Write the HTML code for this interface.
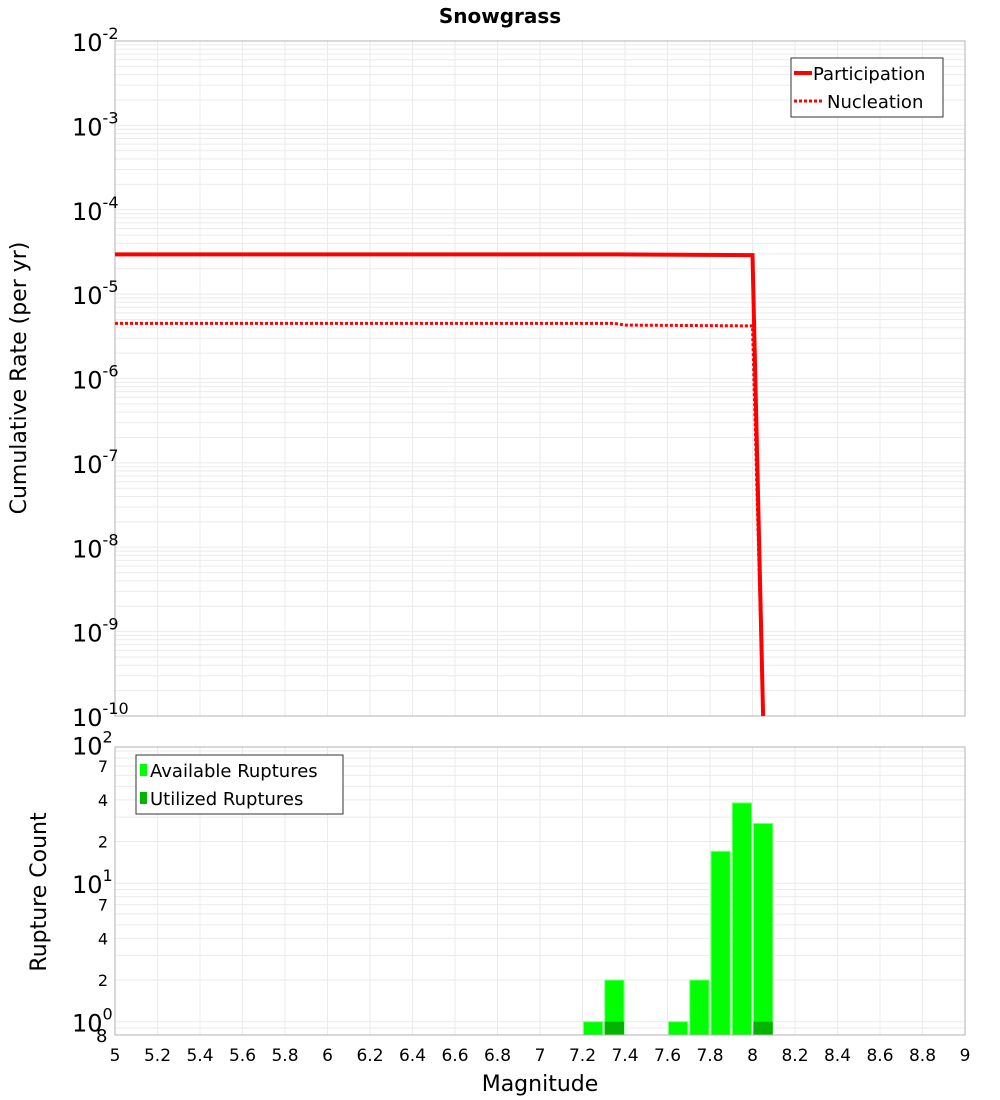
<!DOCTYPE html>
<html><head><meta charset="utf-8">
<style>
body{margin:0;background:#fff;}
svg{display:block;font-family:"DejaVu Sans","Liberation Sans",sans-serif;}
</style></head>
<body>
<svg id="chart" width="1000" height="1100" xmlns="http://www.w3.org/2000/svg">
<text x="500" y="23" text-anchor="middle" font-size="20" font-weight="bold">Snowgrass</text>
<g id="topPlot"></g>
<g id="botPlot"></g>
<text transform="translate(26,378) rotate(-90)" text-anchor="middle" font-size="22">Cumulative Rate (per yr)</text>
<text transform="translate(46,892) rotate(-90)" text-anchor="middle" font-size="22">Rupture Count</text>
<text x="540" y="1091" text-anchor="middle" font-size="22">Magnitude</text>
</svg>
<script>
const partMags=[5.0,7.35,8.0,8.05];
const partRates=[2.96e-5,2.96e-5,2.9e-5,1e-10];
const nuclMags=[5.0,7.35,7.4,8.0,8.05];
const nuclRates=[4.5e-6,4.5e-6,4.3e-6,4.2e-6,1e-10];
const binCenters=[7.25,7.35,7.65,7.75,7.85,7.95,8.05];
const availCounts=[1,2,1,2,17,38,27];
const usedCounts=[0,1,0,0,0,0,1];
const xTicks=[5,5.2,5.4,5.6,5.8,6,6.2,6.4,6.6,6.8,7,7.2,7.4,7.6,7.8,8,8.2,8.4,8.6,8.8,9];
const topExps=[-2,-3,-4,-5,-6,-7,-8,-9,-10];

const NS="http://www.w3.org/2000/svg";
function mk(parent,tag,attrs){const e=document.createElementNS(NS,tag);for(const k in attrs)e.setAttribute(k,attrs[k]);parent.appendChild(e);return e;}
function sup(parent,x,y,base,exp){const t=mk(parent,'text',{x:x,y:y,'font-size':24});
const a=mk(t,'tspan',{});a.textContent=base;
const b=mk(t,'tspan',{dy:-12,'font-size':16});b.textContent=exp;return t;}
const X0=115,X1=965;
const xs=m=>X0+(m-5)/4*(X1-X0);
const TY0=41,TY1=716;
const ty=v=>TY0+(-2-Math.log10(v))/8*(TY1-TY0);
const BY0=747,BY1=1035;
const by=v=>1021.7-Math.log10(v)*138.5;
const topG=document.getElementById('topPlot'),botG=document.getElementById('botPlot');

for(let e=-10;e<-2;e++){for(let k=1;k<10;k++){const y=ty(k*Math.pow(10,e));
const l=mk(topG,'line',{x1:X0,x2:X1,y1:y,y2:y,stroke:'#ebebeb','stroke-width':1});

}}
xTicks.forEach(t=>{const x=xs(t);
const l=mk(topG,'line',{x1:x,x2:x,y1:TY0,y2:TY1,stroke:'#ebebeb','stroke-width':1});


const l2=mk(botG,'line',{x1:x,x2:x,y1:BY0,y2:BY1,stroke:'#ebebeb','stroke-width':1});


const tx=mk(botG,'text',{x:x,y:1061,'text-anchor':'middle','font-size':17});
tx.textContent=String(t);

});
const fr=mk(topG,'rect',{x:X0,y:TY0,width:X1-X0,height:TY1-TY0,fill:'none',stroke:'#b0b0b0'});


topExps.forEach(e=>{const y=ty(Math.pow(10,e));
const t=sup(topG,72,y+10,'10',String(e));

});
function path(ms,vs){return ms.map((m,i)=>(i?'L':'M')+xs(m).toFixed(1)+','+Math.min(ty(vs[i]),TY1+1).toFixed(1)).join(' ');}
const p1=mk(topG,'path',{d:path(partMags,partRates),fill:'none',stroke:'#ff0000','stroke-width':4});


const p2=mk(topG,'path',{d:path(nuclMags,nuclRates),fill:'none',stroke:'#ff0000','stroke-width':3,'stroke-dasharray':'3,2'});


const lg=mk(topG,'g',{});


mk(lg,'rect',{x:791,y:58,width:152,height:59,fill:'#fff',stroke:'#333'});
mk(lg,'line',{x1:794,x2:812,y1:73,y2:73,stroke:'#f00','stroke-width':4});
mk(lg,'line',{x1:794,x2:822,y1:101,y2:101,stroke:'#f00','stroke-width':3,'stroke-dasharray':'3,2'});
const lt1=mk(lg,'text',{x:813,y:80,'font-size':18});lt1.textContent='Participation';


const lt2=mk(lg,'text',{x:827,y:108,'font-size':18});lt2.textContent='Nucleation';



[0.8,0.9,1,2,3,4,5,6,7,8,9,10,20,30,40,50,60,70,80,90,100].forEach(v=>{const y=by(v);if(y<BY0||y>BY1)return;
const l=mk(botG,'line',{x1:X0,x2:X1,y1:y,y2:y,stroke:'#ebebeb'});

});
const bw=(X1-X0)/40;
binCenters.forEach((c,i)=>{const x=xs(c)-bw/2+1;
const r=mk(botG,'rect',{x:x,y:by(availCounts[i]),width:bw-2,height:BY1-by(availCounts[i]),fill:'#00ff00',stroke:'#7fff7f','stroke-width':1});


if(usedCounts[i]>0){const u=mk(botG,'rect',{x:x,y:by(usedCounts[i]),width:bw-2,height:BY1-by(usedCounts[i]),fill:'#00b400'});

}});
const bf=mk(botG,'rect',{x:X0,y:BY0,width:X1-X0,height:BY1-BY0,fill:'none',stroke:'#b0b0b0'});


[[2,'2'],[4,'4'],[7,'7'],[20,'2'],[40,'4'],[70,'7']].forEach(([v,s])=>{const t=mk(botG,'text',{x:103,y:by(v)+6,'font-size':16,'text-anchor':'middle'});t.textContent=s;

});
[[1,'0'],[10,'1'],[100,'2']].forEach(([v,e])=>{const t=sup(botG,72,by(v)+10,'10',e);

});
const t8=mk(botG,'text',{x:96,y:1042,'font-size':18});t8.textContent='8';


const bl=mk(botG,'g',{});


mk(bl,'rect',{x:136,y:755,width:207,height:59,fill:'#fff',stroke:'#333'});
mk(bl,'rect',{x:140,y:764,width:7,height:12,fill:'#00ff00'});
mk(bl,'rect',{x:140,y:792,width:7,height:12,fill:'#00b400'});
const b1=mk(bl,'text',{x:150,y:777,'font-size':18});b1.textContent='Available Ruptures';


const b2=mk(bl,'text',{x:150,y:805,'font-size':18});b2.textContent='Utilized Ruptures';


</script>
</body></html>
